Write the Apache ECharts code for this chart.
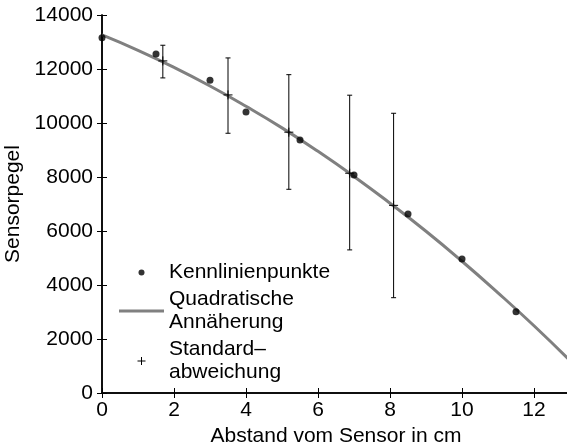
<!DOCTYPE html>
<html>
<head>
<meta charset="utf-8">
<script src="https://cdn.jsdelivr.net/npm/echarts@6/dist/echarts.min.js"></script>
<style>
  html, body { margin: 0; padding: 0; background: #fff; }
  #chart { width: 567px; height: 443px; }
</style>
</head>
<body>
<div id="chart"></div>
<script>
// Measured calibration points (distance in cm, sensor level)
const pointX = [0, 1.5, 3, 4, 5.5, 7, 8.5, 10, 11.5];
const pointY = [13160, 12555, 11580, 10410, 9370, 8075, 6630, 4960, 3010];

// Quadratic approximation, sampled along the distance axis
const fitX = [0, 1, 2, 3, 4, 5, 6, 7, 8, 9, 10, 11, 12, 13];
const fitY = [13260, 12690, 12060, 11370, 10620, 9820, 8950, 8020, 7030, 5990, 4880, 3710, 2490, 1200];

// Mean and standard deviation range per distance
const errX = [1.69, 3.5, 5.19, 6.88, 8.1];
const errMean = [12300, 11040, 9660, 8140, 6950];
const errLow = [11670, 9620, 7545, 5300, 3530];
const errHigh = [12880, 12410, 11790, 11030, 10360];

const yTicks = [0, 2000, 4000, 6000, 8000, 10000, 12000, 14000];

const names = ['Kennlinienpunkte', 'Quadratische\nAnnäherung', 'Standard–\nabweichung'];

const FONT = 'Liberation Sans, Arial, sans-serif';
const FS = 21;

// legend icons: padded dot, flat bar, filled plus sign
const dotPath = 'path://M0,0M8,8M1,4A3,3 0 1 1 7,4A3,3 0 1 1 1,4Z';
const barPath = 'path://M0,0H45V3H0Z';
const plusPath = 'path://M0,3.5H8V4.5H0Z M3.5,0H4.5V8H3.5Z';

const chart = echarts.init(document.getElementById('chart'), null, { renderer: 'canvas' });

const axisLineStyle = { color: '#000', width: 1.5 };
const tickStyle = { show: true, inside: true, length: 5, lineStyle: { color: '#000', width: 1 } };

const option = {
  animation: false,
  backgroundColor: '#fff',
  textStyle: { fontFamily: FONT, color: '#000' },
  grid: { left: 102, top: 15, width: 468, height: 378, containLabel: false, outerBoundsMode: 'none' },
  legend: {
    orient: 'vertical',
    left: 119,
    top: 261,
    padding: 0,
    itemGap: 4,
    itemWidth: 45,
    itemHeight: 8,
    textStyle: { fontFamily: FONT, fontSize: FS, color: '#000', lineHeight: 23 },
    data: [
      { name: names[0], icon: dotPath },
      { name: names[1], icon: barPath },
      { name: names[2], icon: plusPath }
    ]
  },
  xAxis: [
    {
      type: 'value', min: 0, max: 13, interval: 2, position: 'bottom',
      name: 'Abstand vom Sensor in cm', nameLocation: 'middle', nameGap: 29,
      nameTextStyle: { fontFamily: FONT, fontSize: FS, color: '#000' },
      axisLine: { show: true, lineStyle: axisLineStyle },
      axisTick: tickStyle,
      axisLabel: { fontFamily: FONT, fontSize: FS, color: '#000', margin: 7, showMaxLabel: false },
      splitLine: { show: false }
    },
    {
      type: 'value', min: 0, max: 13, interval: 2, position: 'top',
      axisLine: { show: true, lineStyle: axisLineStyle },
      axisTick: tickStyle,
      axisLabel: { show: false },
      splitLine: { show: false }
    }
  ],
  yAxis: [
    {
      type: 'value', min: yTicks[0], max: yTicks[yTicks.length - 1], interval: yTicks[1] - yTicks[0],
      position: 'left',
      name: 'Sensorpegel', nameLocation: 'middle', nameGap: 76,
      nameTextStyle: { fontFamily: FONT, fontSize: FS, color: '#000' },
      axisLine: { show: true, lineStyle: axisLineStyle },
      axisTick: tickStyle,
      axisLabel: { fontFamily: FONT, fontSize: FS, color: '#000', margin: 9, formatter: v => String(v) },
      splitLine: { show: false }
    },
    {
      type: 'value', min: yTicks[0], max: yTicks[yTicks.length - 1], interval: yTicks[1] - yTicks[0],
      position: 'right',
      axisLine: { show: true, lineStyle: axisLineStyle },
      axisTick: tickStyle,
      axisLabel: { show: false },
      splitLine: { show: false }
    }
  ],
  series: [
    {
      name: names[0],
      type: 'scatter',
      symbol: 'circle',
      symbolSize: 7,
      itemStyle: { color: '#000' },
      z: 3,
      data: pointX.map((x, i) => [x, pointY[i]])
    },
    {
      name: names[1],
      type: 'line',
      smooth: true,
      symbol: 'none',
      clip: true,
      itemStyle: { color: '#808080' },
      lineStyle: { color: '#808080', width: 3 },
      z: 2,
      data: fitX.map((x, i) => [x, fitY[i]])
    },
    {
      name: names[2],
      type: 'custom',
      itemStyle: { color: '#000' },
      z: 4,
      encode: { x: 0, y: [1, 2, 3] },
      data: errX.map((x, i) => [x, errMean[i], errLow[i], errHigh[i]]),
      renderItem: function (params, api) {
        const x = api.value(0);
        const pM = api.coord([x, api.value(1)]);
        const pLo = api.coord([x, api.value(2)]);
        const pHi = api.coord([x, api.value(3)]);
        const cap = 2.5;
        const arm = 4.5;
        const st = { stroke: '#000', lineWidth: 1, fill: null };
        return {
          type: 'group',
          children: [
            { type: 'line', shape: { x1: pHi[0], y1: pHi[1], x2: pLo[0], y2: pLo[1] }, style: st },
            { type: 'line', shape: { x1: pHi[0] - cap, y1: pHi[1], x2: pHi[0] + cap, y2: pHi[1] }, style: st },
            { type: 'line', shape: { x1: pLo[0] - cap, y1: pLo[1], x2: pLo[0] + cap, y2: pLo[1] }, style: st },
            { type: 'line', shape: { x1: pM[0] - arm, y1: pM[1], x2: pM[0] + arm, y2: pM[1] }, style: st },
            { type: 'line', shape: { x1: pM[0], y1: pM[1] - arm, x2: pM[0], y2: pM[1] + arm }, style: st }
          ]
        };
      }
    }
  ]
};

chart.setOption(option);
</script>
</body>
</html>
